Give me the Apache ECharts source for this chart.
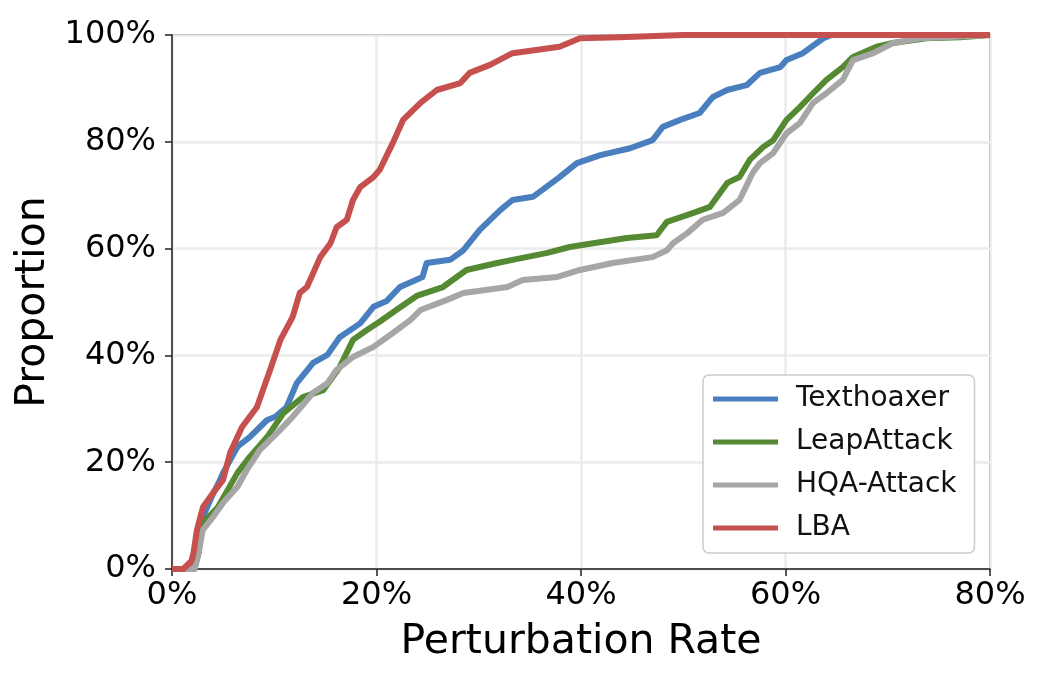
<!DOCTYPE html>
<html>
<head>
<meta charset="utf-8">
<script src="https://cdn.jsdelivr.net/npm/echarts@6/dist/echarts.min.js"></script>
<style>
  html, body { margin: 0; padding: 0; background: #fff; }
  #chart { width: 1049px; height: 675px; }
</style>
</head>
<body>
<div id="chart"></div>
<script>
const seriesNames = ["Texthoaxer", "LeapAttack", "HQA-Attack", "LBA"];
const seriesColors = ["#4a7fbf", "#558a33", "#a6a6a6", "#c5504e"];

const xTicks = [0, 20, 40, 60, 80];
const yTicks = [0, 20, 40, 60, 80, 100];

// Texthoaxer
const texthoaxerX = [0, 2.0, 2.3, 3.0, 4.0, 4.7, 5.0, 6.4, 7.6, 9.3, 10.1, 11.2, 12.2, 13.8, 15.2, 16.4, 18.4, 19.7, 21.0, 22.3, 24.5, 24.9, 27.2, 28.5, 30.1, 32.1, 33.3, 35.3, 37.9, 39.6, 41.9, 44.8, 47.0, 48.0, 49.7, 51.6, 52.9, 54.3, 56.2, 57.5, 59.5, 60.1, 61.7, 63.7, 64.5, 80];
const texthoaxerY = [0, 0, 2, 9.7, 14, 16.7, 18, 22.9, 24.7, 27.9, 28.5, 30.3, 34.8, 38.6, 40.1, 43.4, 46.0, 49.1, 50.2, 52.8, 54.7, 57.3, 57.9, 59.7, 63.5, 67.2, 69.1, 69.7, 73.4, 76.0, 77.5, 78.8, 80.3, 82.8, 84.1, 85.4, 88.4, 89.7, 90.6, 92.9, 94.0, 95.3, 96.6, 99.4, 100, 100];

// LeapAttack
const leapX = [0, 2.2, 2.6, 3.0, 4.5, 6.4, 7.6, 9.3, 10.9, 12.8, 14.8, 16.4, 17.7, 19.1, 20.3, 22.0, 24.0, 26.5, 28.8, 31.8, 33.3, 36.7, 38.9, 41.2, 44.5, 47.4, 48.4, 51.0, 52.6, 54.3, 55.5, 56.5, 57.8, 58.8, 60.1, 61.4, 62.7, 64.0, 65.6, 66.6, 68.9, 70.5, 73.8, 77.1, 80];
const leapY = [0, 0, 3, 8.6, 11.6, 18, 21, 24.7, 29.2, 32.2, 33.5, 37.8, 42.9, 44.8, 46.3, 48.6, 51.2, 52.8, 56, 57.3, 57.9, 59.2, 60.3, 61.0, 62.0, 62.5, 65.0, 66.7, 67.8, 72.3, 73.4, 76.6, 79.0, 80.3, 84.1, 86.5, 89.1, 91.6, 94.0, 95.9, 97.8, 98.5, 99.4, 99.6, 100];

// HQA-Attack
const hqaX = [0, 2.2, 2.6, 3.0, 4.0, 5.0, 6.4, 7.3, 8.6, 10.3, 11.8, 13.8, 15.2, 16.1, 17.7, 19.7, 21.6, 23.3, 24.3, 26.9, 28.5, 32.8, 34.3, 37.7, 39.9, 43.1, 47.0, 48.4, 49.0, 50.4, 51.9, 53.9, 55.5, 56.8, 57.5, 58.8, 60.1, 61.4, 62.7, 64.0, 65.6, 66.6, 68.6, 70.5, 73.2, 75.4, 80];
const hqaY = [0, 0, 3, 7.3, 9.7, 12.4, 15.4, 18.5, 22.3, 25.5, 28.5, 33.0, 34.8, 37.3, 39.7, 41.6, 44.2, 46.6, 48.5, 50.4, 51.7, 52.8, 54.1, 54.7, 56.0, 57.3, 58.4, 59.7, 61.0, 62.9, 65.4, 66.7, 69.1, 74.2, 76.0, 77.9, 81.6, 83.5, 87.3, 89.1, 91.6, 95.3, 96.6, 98.5, 99.4, 99.6, 100];

// LBA
const lbaX = [0, 1.1, 1.9, 2.1, 2.44, 3.03, 4.0, 5.0, 5.67, 6.85, 8.3, 9.6, 10.6, 11.8, 12.5, 13.2, 14.5, 15.5, 16.1, 17.1, 17.7, 18.4, 19.7, 20.3, 21.6, 22.6, 24.3, 25.9, 28.2, 29.1, 31.1, 33.3, 37.9, 39.9, 43.8, 50, 80];
const lbaY = [0, 0, 1.5, 3, 7.3, 11.6, 14.2, 16.7, 21.7, 26.6, 30.3, 37.3, 42.9, 47.2, 51.7, 52.8, 58.4, 61, 64, 65.4, 69.1, 71.5, 73.4, 74.7, 79.8, 84.1, 87.3, 89.7, 91.0, 92.9, 94.4, 96.6, 97.8, 99.4, 99.6, 100, 100];

const xs = [texthoaxerX, leapX, hqaX, lbaX];
const ys = [texthoaxerY, leapY, hqaY, lbaY];

const font = "DejaVu Sans";
const chart = echarts.init(document.getElementById("chart"), null, { renderer: "canvas" });

const option = {
  animation: false,
  backgroundColor: "#ffffff",
  textStyle: { fontFamily: font },
  grid: {
    left: 172, right: 59, top: 35, bottom: 106,
    show: true, borderColor: "#222222", borderWidth: 1.5,
  },
  legend: {
    left: 703, top: 375,
    orient: "vertical",
    data: seriesNames,
    icon: "rect",
    itemWidth: 65, itemHeight: 5,
    itemGap: 15,
    itemStyle: { borderWidth: 0 },
    textStyle: { fontFamily: font, fontSize: 28, color: "#111", padding: [0, 0, 0, 13] },
    padding: [10, 18, 11, 10],
    backgroundColor: "#ffffff",
    borderColor: "#cccccc", borderWidth: 1.5, borderRadius: 6,
  },
  xAxis: {
    type: "value",
    min: xTicks[0], max: xTicks[xTicks.length - 1], interval: 20,
    name: "Perturbation Rate", nameLocation: "middle", nameGap: 53,
    nameTextStyle: { fontFamily: font, fontSize: 41, color: "#000" },
    axisLine: { show: true, lineStyle: { color: "#222", width: 1.5 } },
    axisTick: { show: true, length: 7, lineStyle: { color: "#222", width: 1.5 } },
    axisLabel: { formatter: "{value}%", fontFamily: font, fontSize: 32, color: "#000", margin: 11 },
    splitLine: { show: true, lineStyle: { color: "#ebebeb", width: 2.5 } },
  },
  yAxis: {
    type: "value",
    min: yTicks[0], max: yTicks[yTicks.length - 1], interval: 20,
    name: "Proportion", nameLocation: "middle", nameGap: 118, nameRotate: 90,
    nameTextStyle: { fontFamily: font, fontSize: 41, color: "#000" },
    axisLine: { show: true, lineStyle: { color: "#222", width: 1.5 } },
    axisTick: { show: true, length: 7, lineStyle: { color: "#222", width: 1.5 } },
    axisLabel: { formatter: "{value}%", fontFamily: font, fontSize: 32, color: "#000", margin: 16 },
    splitLine: { show: true, lineStyle: { color: "#ebebeb", width: 2.5 } },
  },
  series: seriesNames.map((name, i) => ({
    name: name,
    type: "line",
    data: xs[i].map((x, j) => [x, ys[i][j]]),
    showSymbol: false,
    color: seriesColors[i],
    lineStyle: { color: seriesColors[i], width: 6, join: "round" },
    z: 2 + i,
  })),
};

chart.setOption(option);
</script>
</body>
</html>
